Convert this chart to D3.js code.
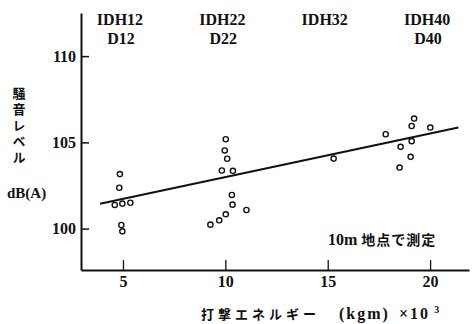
<!DOCTYPE html>
<html>
<head>
<meta charset="utf-8">
<script src="https://cdn.jsdelivr.net/npm/d3@7"></script>
<style>
  body { margin: 0; background: #fff; }
  text { fill: #111; }
  .num { font-family: "Liberation Serif", "DejaVu Serif", serif; font-weight: bold; font-size: 16px; }
  .jp { font-family: "Noto Sans CJK JP", sans-serif; font-weight: bold; font-size: 13px; }
  .axis path, .axis line { stroke: #111; }
</style>
</head>
<body>
<svg width="473" height="324"></svg>
<script>
// striking energy (x10^3 kgm) and noise level dB(A)
var energy = [4.85, 4.82, 4.6, 4.97, 5.36, 4.92, 4.97,
              10.02, 9.97, 10.09, 9.83, 10.37, 10.32, 10.35, 11.03, 10.02, 9.7, 9.27,
              15.29, 17.83, 19.22, 19.1, 20.01, 19.1, 18.56, 19.05, 18.51];
var level  = [103.16, 102.37, 101.37, 101.45, 101.5, 100.21, 99.84,
              105.18, 104.53, 104.05, 103.37, 103.35, 101.95, 101.39, 101.08, 100.83, 100.48, 100.23,
              104.06, 105.47, 106.38, 105.95, 105.86, 105.07, 104.74, 104.16, 103.54];

// regression line end points
var fitX = [3.88, 21.38];
var fitY = [101.44, 105.86];

var xTicks = [5, 10, 15, 20];
var yTicks = [100, 105, 110];

// hammer models above the plot
var modelX = [5, 10, 15, 20];
var modelLine1 = ['IDH12', 'IDH22', 'IDH32', 'IDH40'];
var modelLine2 = ['D12', 'D22', '', 'D40'];

var svg = d3.select('svg');

var x = d3.scaleLinear().domain([2.95, 21.9]).range([81, 469]),
    y = d3.scaleLinear().domain([97.6, 112.5]).range([270, 13]);

// axes, ticks pointing into the plot
svg.append('g')
    .attr('class', 'axis')
    .attr('transform', 'translate(0,270)')
    .call(d3.axisBottom(x).tickValues(xTicks).tickSizeInner(-10).tickSizeOuter(0).tickPadding(6))
    .call(function(g) {
      g.select('.domain').attr('stroke-width', 2);
      g.selectAll('line').attr('stroke-width', 1.3);
      g.selectAll('text').attr('class', 'num').attr('fill', '#111');
    });

svg.append('g')
    .attr('class', 'axis')
    .attr('transform', 'translate(81,0)')
    .call(d3.axisLeft(y).tickValues(yTicks).tickSizeInner(-8).tickSizeOuter(0).tickPadding(5))
    .call(function(g) {
      g.select('.domain').attr('stroke-width', 2);
      g.selectAll('line').attr('stroke-width', 1.5);
      g.selectAll('text').attr('class', 'num').attr('fill', '#111');
    });

// model labels
svg.selectAll('.m1')
  .data(modelX)
  .enter().append('text')
    .attr('class', 'num m1')
    .attr('text-anchor', 'middle')
    .attr('x', function(d) { return x(d) - 3; })
    .attr('y', 25)
    .text(function(d, i) { return modelLine1[i]; });

svg.selectAll('.m2')
  .data(modelX)
  .enter().append('text')
    .attr('class', 'num m2')
    .attr('text-anchor', 'middle')
    .attr('x', function(d) { return x(d) - 2; })
    .attr('y', 44)
    .text(function(d, i) { return modelLine2[i]; });

// regression line
svg.append('line')
    .attr('x1', x(fitX[0])).attr('y1', y(fitY[0]))
    .attr('x2', x(fitX[1])).attr('y2', y(fitY[1]))
    .attr('stroke', '#111')
    .attr('stroke-width', 2.2);

// measured points
svg.selectAll('.pt')
  .data(energy)
  .enter().append('circle')
    .attr('class', 'pt')
    .attr('cx', function(d) { return x(d); })
    .attr('cy', function(d, i) { return y(level[i]); })
    .attr('r', 2.6)
    .attr('fill', '#fff')
    .attr('stroke', '#111')
    .attr('stroke-width', 1.4);

// y title, vertical then unit
svg.append('text')
    .attr('class', 'jp')
    .attr('x', 19)
    .attr('y', 87)
    .style('writing-mode', 'vertical-rl')
    .style('text-orientation', 'upright')
    .attr('letter-spacing', 3)
    .text('騒音レベル');

svg.append('text')
    .attr('class', 'num')
    .style('font-size', '15px')
    .attr('x', 7)
    .attr('y', 198)
    .text('dB(A)');

// annotation
svg.append('text')
    .attr('x', 328)
    .attr('y', 245)
    .call(function(t) {
      t.append('tspan').attr('class', 'num').text('10m ');
      t.append('tspan').attr('class', 'jp').style('font-size', '14px').attr('letter-spacing', 1).text('地点で測定');
    });

// x title
svg.append('text')
    .attr('class', 'jp')
    .attr('x', 201)
    .attr('y', 319)
    .attr('letter-spacing', 4)
    .text('打撃エネルギー');

svg.append('text')
    .attr('class', 'num')
    .attr('x', 339)
    .attr('y', 319)
    .attr('letter-spacing', 2)
    .text('(kgm)');

svg.append('text')
    .attr('class', 'num')
    .attr('x', 399)
    .attr('y', 319)
    .attr('letter-spacing', 2)
    .text('×10')
  .append('tspan')
    .attr('dx', 4)
    .attr('dy', -6)
    .style('font-size', '10px')
    .text('3');
</script>
</body>
</html>
